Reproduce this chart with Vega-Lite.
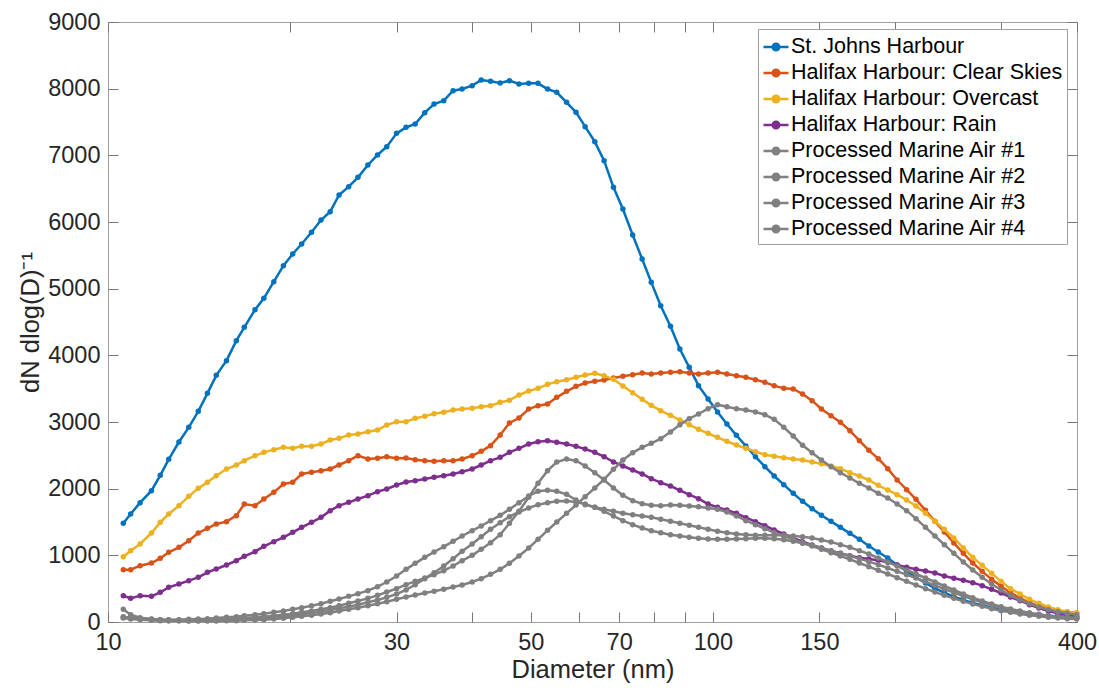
{
"$schema": "https://vega.github.io/schema/vega-lite/v6.json",
"width": 969, "height": 600,
"autosize": "none",
"padding": {"left": 108, "top": 22, "right": 22, "bottom": 68},
"background": "white",
"config": {
  "view": {"stroke": "#a0a0a0", "strokeWidth": 1},
  "font": "Liberation Sans",
  "axis": {"domain": false, "grid": false, "tickColor": "#777777", "tickSize": -10, "tickWidth": 1, "labelFont": "Liberation Sans", "labelFontSize": 23.5, "labelColor": "#262626", "titleFont": "Liberation Sans", "titleFontSize": 25.5, "titleFontWeight": "normal", "titleColor": "#262626", "labelPadding": 18}
},
"datasets": {
"s1": [{"d":10.6,"v":1480},{"d":10.9,"v":1620},{"d":11.3,"v":1790},{"d":11.8,"v":1970},{"d":12.2,"v":2200},{"d":12.6,"v":2440},{"d":13.1,"v":2700},{"d":13.6,"v":2920},{"d":14.1,"v":3160},{"d":14.6,"v":3430},{"d":15.1,"v":3700},{"d":15.7,"v":3920},{"d":16.3,"v":4220},{"d":16.8,"v":4420},{"d":17.5,"v":4685},{"d":18.1,"v":4855},{"d":18.8,"v":5105},{"d":19.5,"v":5345},{"d":20.2,"v":5520},{"d":20.9,"v":5670},{"d":21.7,"v":5845},{"d":22.5,"v":6030},{"d":23.3,"v":6155},{"d":24.1,"v":6405},{"d":25,"v":6530},{"d":25.9,"v":6670},{"d":26.9,"v":6855},{"d":27.9,"v":7005},{"d":28.9,"v":7130},{"d":30,"v":7330},{"d":31.1,"v":7420},{"d":32.2,"v":7470},{"d":33.4,"v":7640},{"d":34.6,"v":7770},{"d":35.9,"v":7820},{"d":37.2,"v":7970},{"d":38.5,"v":7995},{"d":40,"v":8045},{"d":41.4,"v":8130},{"d":42.9,"v":8110},{"d":44.5,"v":8085},{"d":46.1,"v":8120},{"d":47.8,"v":8070},{"d":49.6,"v":8080},{"d":51.4,"v":8080},{"d":53.3,"v":7995},{"d":55.2,"v":7945},{"d":57.3,"v":7795},{"d":59.4,"v":7645},{"d":61.5,"v":7430},{"d":63.8,"v":7205},{"d":66.1,"v":6920},{"d":68.5,"v":6520},{"d":71,"v":6195},{"d":73.7,"v":5805},{"d":76.4,"v":5445},{"d":79.1,"v":5095},{"d":82,"v":4745},{"d":85.1,"v":4435},{"d":88.2,"v":4095},{"d":91.4,"v":3820},{"d":94.7,"v":3545},{"d":98.2,"v":3345},{"d":101.8,"v":3150},{"d":105.5,"v":2970},{"d":109.4,"v":2800},{"d":113.4,"v":2640},{"d":117.6,"v":2480},{"d":121.9,"v":2330},{"d":126.3,"v":2190},{"d":131,"v":2060},{"d":135.8,"v":1930},{"d":140.7,"v":1810},{"d":145.9,"v":1700},{"d":151.2,"v":1600},{"d":156.8,"v":1510},{"d":162.5,"v":1420},{"d":168.5,"v":1330},{"d":174.7,"v":1240},{"d":181.1,"v":1140},{"d":187.7,"v":1050},{"d":194.6,"v":960},{"d":201.7,"v":855},{"d":209.1,"v":760},{"d":216.7,"v":670},{"d":224.7,"v":585},{"d":232.9,"v":505},{"d":241.4,"v":440},{"d":250.3,"v":380},{"d":259.5,"v":330},{"d":269,"v":285},{"d":278.8,"v":250},{"d":289,"v":215},{"d":299.6,"v":185},{"d":310.6,"v":160},{"d":322,"v":140},{"d":333.8,"v":120},{"d":346,"v":105},{"d":358.7,"v":95},{"d":371.8,"v":85},{"d":385.4,"v":75},{"d":399.5,"v":65}],
"s2": [{"d":10.6,"v":785},{"d":10.9,"v":785},{"d":11.3,"v":845},{"d":11.8,"v":885},{"d":12.2,"v":955},{"d":12.6,"v":1045},{"d":13.1,"v":1120},{"d":13.6,"v":1220},{"d":14.1,"v":1335},{"d":14.6,"v":1405},{"d":15.1,"v":1470},{"d":15.7,"v":1505},{"d":16.3,"v":1595},{"d":16.8,"v":1770},{"d":17.5,"v":1745},{"d":18.1,"v":1845},{"d":18.8,"v":1945},{"d":19.5,"v":2070},{"d":20.2,"v":2095},{"d":20.9,"v":2220},{"d":21.7,"v":2245},{"d":22.5,"v":2270},{"d":23.3,"v":2295},{"d":24.1,"v":2355},{"d":25,"v":2420},{"d":25.9,"v":2495},{"d":26.9,"v":2445},{"d":27.9,"v":2455},{"d":28.9,"v":2480},{"d":30,"v":2455},{"d":31.1,"v":2460},{"d":32.2,"v":2435},{"d":33.4,"v":2420},{"d":34.6,"v":2410},{"d":35.9,"v":2420},{"d":37.2,"v":2420},{"d":38.5,"v":2445},{"d":40,"v":2495},{"d":41.4,"v":2560},{"d":42.9,"v":2645},{"d":44.5,"v":2805},{"d":46.1,"v":2985},{"d":47.8,"v":3060},{"d":49.6,"v":3195},{"d":51.4,"v":3245},{"d":53.3,"v":3270},{"d":55.2,"v":3370},{"d":57.3,"v":3460},{"d":59.4,"v":3535},{"d":61.5,"v":3585},{"d":63.8,"v":3610},{"d":66.1,"v":3630},{"d":68.5,"v":3660},{"d":71,"v":3685},{"d":73.7,"v":3710},{"d":76.4,"v":3735},{"d":79.1,"v":3720},{"d":82,"v":3735},{"d":85.1,"v":3745},{"d":88.2,"v":3755},{"d":91.4,"v":3735},{"d":94.7,"v":3720},{"d":98.2,"v":3735},{"d":101.8,"v":3745},{"d":105.5,"v":3720},{"d":109.4,"v":3695},{"d":113.4,"v":3670},{"d":117.6,"v":3635},{"d":121.9,"v":3595},{"d":126.3,"v":3545},{"d":131,"v":3505},{"d":135.8,"v":3495},{"d":140.7,"v":3420},{"d":145.9,"v":3320},{"d":151.2,"v":3195},{"d":156.8,"v":3095},{"d":162.5,"v":2995},{"d":168.5,"v":2870},{"d":174.7,"v":2720},{"d":181.1,"v":2575},{"d":187.7,"v":2450},{"d":194.6,"v":2300},{"d":201.7,"v":2130},{"d":209.1,"v":1985},{"d":216.7,"v":1840},{"d":224.7,"v":1675},{"d":232.9,"v":1510},{"d":241.4,"v":1350},{"d":250.3,"v":1185},{"d":259.5,"v":1030},{"d":269,"v":885},{"d":278.8,"v":760},{"d":289,"v":640},{"d":299.6,"v":535},{"d":310.6,"v":440},{"d":322,"v":360},{"d":333.8,"v":290},{"d":346,"v":240},{"d":358.7,"v":200},{"d":371.8,"v":170},{"d":385.4,"v":150},{"d":399.5,"v":135}],
"s3": [{"d":10.6,"v":980},{"d":10.9,"v":1070},{"d":11.3,"v":1170},{"d":11.8,"v":1335},{"d":12.2,"v":1495},{"d":12.6,"v":1620},{"d":13.1,"v":1745},{"d":13.6,"v":1885},{"d":14.1,"v":2005},{"d":14.6,"v":2095},{"d":15.1,"v":2195},{"d":15.7,"v":2295},{"d":16.3,"v":2355},{"d":16.8,"v":2420},{"d":17.5,"v":2495},{"d":18.1,"v":2545},{"d":18.8,"v":2585},{"d":19.5,"v":2620},{"d":20.2,"v":2605},{"d":20.9,"v":2635},{"d":21.7,"v":2635},{"d":22.5,"v":2670},{"d":23.3,"v":2730},{"d":24.1,"v":2755},{"d":25,"v":2805},{"d":25.9,"v":2820},{"d":26.9,"v":2855},{"d":27.9,"v":2880},{"d":28.9,"v":2955},{"d":30,"v":3005},{"d":31.1,"v":3005},{"d":32.2,"v":3055},{"d":33.4,"v":3085},{"d":34.6,"v":3125},{"d":35.9,"v":3145},{"d":37.2,"v":3180},{"d":38.5,"v":3195},{"d":40,"v":3205},{"d":41.4,"v":3230},{"d":42.9,"v":3245},{"d":44.5,"v":3295},{"d":46.1,"v":3325},{"d":47.8,"v":3405},{"d":49.6,"v":3465},{"d":51.4,"v":3505},{"d":53.3,"v":3565},{"d":55.2,"v":3605},{"d":57.3,"v":3635},{"d":59.4,"v":3670},{"d":61.5,"v":3705},{"d":63.8,"v":3730},{"d":66.1,"v":3695},{"d":68.5,"v":3640},{"d":71,"v":3540},{"d":73.7,"v":3440},{"d":76.4,"v":3340},{"d":79.1,"v":3250},{"d":82,"v":3170},{"d":85.1,"v":3100},{"d":88.2,"v":3030},{"d":91.4,"v":2960},{"d":94.7,"v":2890},{"d":98.2,"v":2830},{"d":101.8,"v":2770},{"d":105.5,"v":2710},{"d":109.4,"v":2655},{"d":113.4,"v":2605},{"d":117.6,"v":2555},{"d":121.9,"v":2510},{"d":126.3,"v":2485},{"d":131,"v":2465},{"d":135.8,"v":2445},{"d":140.7,"v":2430},{"d":145.9,"v":2400},{"d":151.2,"v":2375},{"d":156.8,"v":2340},{"d":162.5,"v":2300},{"d":168.5,"v":2240},{"d":174.7,"v":2190},{"d":181.1,"v":2130},{"d":187.7,"v":2050},{"d":194.6,"v":1980},{"d":201.7,"v":1910},{"d":209.1,"v":1830},{"d":216.7,"v":1740},{"d":224.7,"v":1630},{"d":232.9,"v":1510},{"d":241.4,"v":1390},{"d":250.3,"v":1260},{"d":259.5,"v":1110},{"d":269,"v":970},{"d":278.8,"v":850},{"d":289,"v":730},{"d":299.6,"v":610},{"d":310.6,"v":500},{"d":322,"v":420},{"d":333.8,"v":340},{"d":346,"v":280},{"d":358.7,"v":225},{"d":371.8,"v":185},{"d":385.4,"v":155},{"d":399.5,"v":135}],
"s4": [{"d":10.6,"v":395},{"d":10.9,"v":355},{"d":11.3,"v":395},{"d":11.8,"v":385},{"d":12.2,"v":445},{"d":12.6,"v":520},{"d":13.1,"v":570},{"d":13.6,"v":620},{"d":14.1,"v":670},{"d":14.6,"v":745},{"d":15.1,"v":795},{"d":15.7,"v":855},{"d":16.3,"v":920},{"d":16.8,"v":985},{"d":17.5,"v":1055},{"d":18.1,"v":1135},{"d":18.8,"v":1205},{"d":19.5,"v":1270},{"d":20.2,"v":1345},{"d":20.9,"v":1420},{"d":21.7,"v":1495},{"d":22.5,"v":1570},{"d":23.3,"v":1670},{"d":24.1,"v":1745},{"d":25,"v":1795},{"d":25.9,"v":1845},{"d":26.9,"v":1895},{"d":27.9,"v":1955},{"d":28.9,"v":1995},{"d":30,"v":2055},{"d":31.1,"v":2100},{"d":32.2,"v":2120},{"d":33.4,"v":2145},{"d":34.6,"v":2170},{"d":35.9,"v":2195},{"d":37.2,"v":2220},{"d":38.5,"v":2255},{"d":40,"v":2295},{"d":41.4,"v":2355},{"d":42.9,"v":2420},{"d":44.5,"v":2470},{"d":46.1,"v":2545},{"d":47.8,"v":2605},{"d":49.6,"v":2670},{"d":51.4,"v":2705},{"d":53.3,"v":2720},{"d":55.2,"v":2695},{"d":57.3,"v":2670},{"d":59.4,"v":2635},{"d":61.5,"v":2595},{"d":63.8,"v":2545},{"d":66.1,"v":2480},{"d":68.5,"v":2400},{"d":71,"v":2340},{"d":73.7,"v":2280},{"d":76.4,"v":2220},{"d":79.1,"v":2150},{"d":82,"v":2090},{"d":85.1,"v":2040},{"d":88.2,"v":1975},{"d":91.4,"v":1910},{"d":94.7,"v":1850},{"d":98.2,"v":1770},{"d":101.8,"v":1720},{"d":105.5,"v":1680},{"d":109.4,"v":1630},{"d":113.4,"v":1565},{"d":117.6,"v":1505},{"d":121.9,"v":1445},{"d":126.3,"v":1380},{"d":131,"v":1320},{"d":135.8,"v":1260},{"d":140.7,"v":1205},{"d":145.9,"v":1155},{"d":151.2,"v":1110},{"d":156.8,"v":1065},{"d":162.5,"v":1030},{"d":168.5,"v":995},{"d":174.7,"v":965},{"d":181.1,"v":945},{"d":187.7,"v":925},{"d":194.6,"v":895},{"d":201.7,"v":855},{"d":209.1,"v":820},{"d":216.7,"v":790},{"d":224.7,"v":765},{"d":232.9,"v":735},{"d":241.4,"v":690},{"d":250.3,"v":655},{"d":259.5,"v":625},{"d":269,"v":590},{"d":278.8,"v":545},{"d":289,"v":490},{"d":299.6,"v":435},{"d":310.6,"v":375},{"d":322,"v":320},{"d":333.8,"v":260},{"d":346,"v":210},{"d":358.7,"v":165},{"d":371.8,"v":130},{"d":385.4,"v":105},{"d":399.5,"v":85}],
"s5": [{"d":10.6,"v":190},{"d":10.9,"v":110},{"d":11.3,"v":65},{"d":11.8,"v":45},{"d":12.2,"v":35},{"d":12.6,"v":35},{"d":13.1,"v":35},{"d":13.6,"v":40},{"d":14.1,"v":45},{"d":14.6,"v":50},{"d":15.1,"v":60},{"d":15.7,"v":70},{"d":16.3,"v":80},{"d":16.8,"v":95},{"d":17.5,"v":110},{"d":18.1,"v":125},{"d":18.8,"v":145},{"d":19.5,"v":165},{"d":20.2,"v":190},{"d":20.9,"v":215},{"d":21.7,"v":245},{"d":22.5,"v":275},{"d":23.3,"v":310},{"d":24.1,"v":345},{"d":25,"v":385},{"d":25.9,"v":425},{"d":26.9,"v":470},{"d":27.9,"v":530},{"d":28.9,"v":600},{"d":30,"v":690},{"d":31.1,"v":790},{"d":32.2,"v":880},{"d":33.4,"v":970},{"d":34.6,"v":1050},{"d":35.9,"v":1130},{"d":37.2,"v":1210},{"d":38.5,"v":1290},{"d":40,"v":1370},{"d":41.4,"v":1440},{"d":42.9,"v":1520},{"d":44.5,"v":1600},{"d":46.1,"v":1690},{"d":47.8,"v":1790},{"d":49.6,"v":1890},{"d":51.4,"v":1960},{"d":53.3,"v":1975},{"d":55.2,"v":1960},{"d":57.3,"v":1915},{"d":59.4,"v":1830},{"d":61.5,"v":1760},{"d":63.8,"v":1720},{"d":66.1,"v":1690},{"d":68.5,"v":1660},{"d":71,"v":1630},{"d":73.7,"v":1610},{"d":76.4,"v":1590},{"d":79.1,"v":1570},{"d":82,"v":1540},{"d":85.1,"v":1510},{"d":88.2,"v":1480},{"d":91.4,"v":1450},{"d":94.7,"v":1420},{"d":98.2,"v":1390},{"d":101.8,"v":1360},{"d":105.5,"v":1340},{"d":109.4,"v":1320},{"d":113.4,"v":1310},{"d":117.6,"v":1300},{"d":121.9,"v":1300},{"d":126.3,"v":1300},{"d":131,"v":1300},{"d":135.8,"v":1290},{"d":140.7,"v":1280},{"d":145.9,"v":1260},{"d":151.2,"v":1230},{"d":156.8,"v":1200},{"d":162.5,"v":1160},{"d":168.5,"v":1120},{"d":174.7,"v":1070},{"d":181.1,"v":1020},{"d":187.7,"v":960},{"d":194.6,"v":900},{"d":201.7,"v":840},{"d":209.1,"v":780},{"d":216.7,"v":720},{"d":224.7,"v":660},{"d":232.9,"v":600},{"d":241.4,"v":540},{"d":250.3,"v":480},{"d":259.5,"v":420},{"d":269,"v":365},{"d":278.8,"v":315},{"d":289,"v":270},{"d":299.6,"v":230},{"d":310.6,"v":195},{"d":322,"v":165},{"d":333.8,"v":140},{"d":346,"v":115},{"d":358.7,"v":95},{"d":371.8,"v":80},{"d":385.4,"v":70},{"d":399.5,"v":60}],
"s6": [{"d":10.6,"v":80},{"d":10.9,"v":65},{"d":11.3,"v":50},{"d":11.8,"v":40},{"d":12.2,"v":35},{"d":12.6,"v":30},{"d":13.1,"v":30},{"d":13.6,"v":30},{"d":14.1,"v":30},{"d":14.6,"v":35},{"d":15.1,"v":40},{"d":15.7,"v":45},{"d":16.3,"v":55},{"d":16.8,"v":60},{"d":17.5,"v":70},{"d":18.1,"v":80},{"d":18.8,"v":95},{"d":19.5,"v":110},{"d":20.2,"v":125},{"d":20.9,"v":145},{"d":21.7,"v":165},{"d":22.5,"v":190},{"d":23.3,"v":215},{"d":24.1,"v":245},{"d":25,"v":280},{"d":25.9,"v":315},{"d":26.9,"v":355},{"d":27.9,"v":400},{"d":28.9,"v":450},{"d":30,"v":500},{"d":31.1,"v":560},{"d":32.2,"v":610},{"d":33.4,"v":660},{"d":34.6,"v":710},{"d":35.9,"v":770},{"d":37.2,"v":840},{"d":38.5,"v":920},{"d":40,"v":1000},{"d":41.4,"v":1090},{"d":42.9,"v":1190},{"d":44.5,"v":1310},{"d":46.1,"v":1480},{"d":47.8,"v":1660},{"d":49.6,"v":1870},{"d":51.4,"v":2080},{"d":53.3,"v":2270},{"d":55.2,"v":2400},{"d":57.3,"v":2445},{"d":59.4,"v":2420},{"d":61.5,"v":2340},{"d":63.8,"v":2240},{"d":66.1,"v":2130},{"d":68.5,"v":2010},{"d":71,"v":1900},{"d":73.7,"v":1820},{"d":76.4,"v":1775},{"d":79.1,"v":1750},{"d":82,"v":1745},{"d":85.1,"v":1755},{"d":88.2,"v":1750},{"d":91.4,"v":1740},{"d":94.7,"v":1730},{"d":98.2,"v":1710},{"d":101.8,"v":1690},{"d":105.5,"v":1650},{"d":109.4,"v":1590},{"d":113.4,"v":1520},{"d":117.6,"v":1460},{"d":121.9,"v":1400},{"d":126.3,"v":1340},{"d":131,"v":1290},{"d":135.8,"v":1240},{"d":140.7,"v":1190},{"d":145.9,"v":1150},{"d":151.2,"v":1110},{"d":156.8,"v":1070},{"d":162.5,"v":1030},{"d":168.5,"v":990},{"d":174.7,"v":950},{"d":181.1,"v":905},{"d":187.7,"v":860},{"d":194.6,"v":810},{"d":201.7,"v":760},{"d":209.1,"v":710},{"d":216.7,"v":660},{"d":224.7,"v":605},{"d":232.9,"v":550},{"d":241.4,"v":495},{"d":250.3,"v":440},{"d":259.5,"v":390},{"d":269,"v":340},{"d":278.8,"v":295},{"d":289,"v":255},{"d":299.6,"v":215},{"d":310.6,"v":180},{"d":322,"v":150},{"d":333.8,"v":125},{"d":346,"v":105},{"d":358.7,"v":90},{"d":371.8,"v":75},{"d":385.4,"v":65},{"d":399.5,"v":55}],
"s7": [{"d":10.6,"v":60},{"d":10.9,"v":45},{"d":11.3,"v":35},{"d":11.8,"v":25},{"d":12.2,"v":20},{"d":12.6,"v":20},{"d":13.1,"v":20},{"d":13.6,"v":20},{"d":14.1,"v":20},{"d":14.6,"v":25},{"d":15.1,"v":25},{"d":15.7,"v":30},{"d":16.3,"v":35},{"d":16.8,"v":40},{"d":17.5,"v":50},{"d":18.1,"v":60},{"d":18.8,"v":70},{"d":19.5,"v":85},{"d":20.2,"v":100},{"d":20.9,"v":115},{"d":21.7,"v":135},{"d":22.5,"v":155},{"d":23.3,"v":180},{"d":24.1,"v":205},{"d":25,"v":230},{"d":25.9,"v":260},{"d":26.9,"v":295},{"d":27.9,"v":330},{"d":28.9,"v":370},{"d":30,"v":420},{"d":31.1,"v":480},{"d":32.2,"v":560},{"d":33.4,"v":650},{"d":34.6,"v":740},{"d":35.9,"v":840},{"d":37.2,"v":950},{"d":38.5,"v":1060},{"d":40,"v":1170},{"d":41.4,"v":1280},{"d":42.9,"v":1390},{"d":44.5,"v":1490},{"d":46.1,"v":1580},{"d":47.8,"v":1650},{"d":49.6,"v":1710},{"d":51.4,"v":1760},{"d":53.3,"v":1790},{"d":55.2,"v":1810},{"d":57.3,"v":1815},{"d":59.4,"v":1800},{"d":61.5,"v":1770},{"d":63.8,"v":1720},{"d":66.1,"v":1660},{"d":68.5,"v":1590},{"d":71,"v":1520},{"d":73.7,"v":1460},{"d":76.4,"v":1410},{"d":79.1,"v":1370},{"d":82,"v":1340},{"d":85.1,"v":1310},{"d":88.2,"v":1290},{"d":91.4,"v":1270},{"d":94.7,"v":1255},{"d":98.2,"v":1245},{"d":101.8,"v":1240},{"d":105.5,"v":1240},{"d":109.4,"v":1245},{"d":113.4,"v":1250},{"d":117.6,"v":1255},{"d":121.9,"v":1255},{"d":126.3,"v":1250},{"d":131,"v":1235},{"d":135.8,"v":1210},{"d":140.7,"v":1180},{"d":145.9,"v":1140},{"d":151.2,"v":1090},{"d":156.8,"v":1040},{"d":162.5,"v":990},{"d":168.5,"v":940},{"d":174.7,"v":885},{"d":181.1,"v":830},{"d":187.7,"v":775},{"d":194.6,"v":720},{"d":201.7,"v":665},{"d":209.1,"v":610},{"d":216.7,"v":555},{"d":224.7,"v":500},{"d":232.9,"v":450},{"d":241.4,"v":400},{"d":250.3,"v":355},{"d":259.5,"v":310},{"d":269,"v":270},{"d":278.8,"v":235},{"d":289,"v":200},{"d":299.6,"v":170},{"d":310.6,"v":145},{"d":322,"v":120},{"d":333.8,"v":100},{"d":346,"v":85},{"d":358.7,"v":70},{"d":371.8,"v":60},{"d":385.4,"v":50},{"d":399.5,"v":45}],
"s8": [{"d":10.6,"v":70},{"d":10.9,"v":55},{"d":11.3,"v":40},{"d":11.8,"v":30},{"d":12.2,"v":25},{"d":12.6,"v":20},{"d":13.1,"v":20},{"d":13.6,"v":15},{"d":14.1,"v":15},{"d":14.6,"v":15},{"d":15.1,"v":15},{"d":15.7,"v":20},{"d":16.3,"v":20},{"d":16.8,"v":25},{"d":17.5,"v":30},{"d":18.1,"v":35},{"d":18.8,"v":45},{"d":19.5,"v":55},{"d":20.2,"v":70},{"d":20.9,"v":85},{"d":21.7,"v":100},{"d":22.5,"v":120},{"d":23.3,"v":140},{"d":24.1,"v":165},{"d":25,"v":190},{"d":25.9,"v":215},{"d":26.9,"v":245},{"d":27.9,"v":275},{"d":28.9,"v":305},{"d":30,"v":340},{"d":31.1,"v":375},{"d":32.2,"v":405},{"d":33.4,"v":435},{"d":34.6,"v":460},{"d":35.9,"v":490},{"d":37.2,"v":525},{"d":38.5,"v":555},{"d":40,"v":600},{"d":41.4,"v":650},{"d":42.9,"v":715},{"d":44.5,"v":790},{"d":46.1,"v":880},{"d":47.8,"v":990},{"d":49.6,"v":1110},{"d":51.4,"v":1240},{"d":53.3,"v":1375},{"d":55.2,"v":1500},{"d":57.3,"v":1630},{"d":59.4,"v":1755},{"d":61.5,"v":1880},{"d":63.8,"v":2010},{"d":66.1,"v":2140},{"d":68.5,"v":2290},{"d":71,"v":2430},{"d":73.7,"v":2540},{"d":76.4,"v":2620},{"d":79.1,"v":2680},{"d":82,"v":2750},{"d":85.1,"v":2850},{"d":88.2,"v":2960},{"d":91.4,"v":3050},{"d":94.7,"v":3120},{"d":98.2,"v":3200},{"d":101.8,"v":3260},{"d":105.5,"v":3230},{"d":109.4,"v":3200},{"d":113.4,"v":3180},{"d":117.6,"v":3150},{"d":121.9,"v":3110},{"d":126.3,"v":3040},{"d":131,"v":2920},{"d":135.8,"v":2790},{"d":140.7,"v":2650},{"d":145.9,"v":2540},{"d":151.2,"v":2430},{"d":156.8,"v":2330},{"d":162.5,"v":2240},{"d":168.5,"v":2160},{"d":174.7,"v":2080},{"d":181.1,"v":2010},{"d":187.7,"v":1930},{"d":194.6,"v":1860},{"d":201.7,"v":1770},{"d":209.1,"v":1670},{"d":216.7,"v":1550},{"d":224.7,"v":1420},{"d":232.9,"v":1290},{"d":241.4,"v":1160},{"d":250.3,"v":1030},{"d":259.5,"v":900},{"d":269,"v":780},{"d":278.8,"v":670},{"d":289,"v":570},{"d":299.6,"v":480},{"d":310.6,"v":400},{"d":322,"v":330},{"d":333.8,"v":275},{"d":346,"v":225},{"d":358.7,"v":185},{"d":371.8,"v":155},{"d":385.4,"v":130},{"d":399.5,"v":110}]
},
"layer": [
 {"data": {"name": "s1"}, "mark": {"type": "line", "strokeWidth": 2.5, "point": {"filled": true, "size": 30}},
  "encoding": {
   "x": {"field": "d", "type": "quantitative", "scale": {"type": "log", "domain": [10, 400], "nice": false},
         "axis": {"orient": "bottom", "values": [10,20,30,40,50,60,70,80,90,100,150,200,300,400], "labelExpr": "indexof([10,30,50,70,100,150,400], datum.value) >= 0 ? format(datum.value, 'd') : ''", "labelOverlap": false, "labelFlush": false, "title": "Diameter (nm)", "titlePadding": 4}},
   "y": {"field": "v", "type": "quantitative", "scale": {"domain": [0, 9000], "nice": false},
         "axis": {"orient": "left", "values": [0,1000,2000,3000,4000,5000,6000,7000,8000,9000], "format": "d", "labelOverlap": false, "title": "dN dlog(D)⁻¹", "titlePadding": 4}},
   "color": {"datum": "St. Johns Harbour", "type": "nominal",
     "scale": {"domain": ["St. Johns Harbour", "Halifax Harbour: Clear Skies", "Halifax Harbour: Overcast", "Halifax Harbour: Rain", "Processed Marine Air #1", "Processed Marine Air #2", "Processed Marine Air #3", "Processed Marine Air #4"],
               "range": ["#0072BD", "#D95319", "#EDB120", "#7E2F8E", "#808080", "#808080", "#808080", "#808080"]},
     "legend": {"orient": "none", "legendX": 650, "legendY": 7, "title": null, "padding": 4, "strokeColor": "#a0a0a0", "fillColor": "white",
       "symbolType": "M-1,0L1,0M-0.26,0A0.26,0.26,0,1,1,0.26,0A0.26,0.26,0,1,1,-0.26,0", "symbolSize": 625, "symbolStrokeWidth": 2.5,
       "labelFontSize": 21.5, "labelFont": "Liberation Sans", "labelColor": "#000000", "labelOffset": 1, "rowPadding": 1, "labelLimit": 400,
       "encode": {"symbols": {"update": {"fill": {"scale": "color", "field": "value"}}}}}}
  }},
 {"data": {"name": "s2"}, "mark": {"type": "line", "strokeWidth": 2.5, "point": {"filled": true, "size": 30}},
  "encoding": {"x": {"field": "d", "type": "quantitative", "scale": {"type": "log"}, "axis": null}, "y": {"field": "v", "type": "quantitative", "axis": null}, "color": {"datum": "Halifax Harbour: Clear Skies", "type": "nominal"}}},
 {"data": {"name": "s3"}, "mark": {"type": "line", "strokeWidth": 2.5, "point": {"filled": true, "size": 30}},
  "encoding": {"x": {"field": "d", "type": "quantitative", "scale": {"type": "log"}, "axis": null}, "y": {"field": "v", "type": "quantitative", "axis": null}, "color": {"datum": "Halifax Harbour: Overcast", "type": "nominal"}}},
 {"data": {"name": "s4"}, "mark": {"type": "line", "strokeWidth": 2.5, "point": {"filled": true, "size": 30}},
  "encoding": {"x": {"field": "d", "type": "quantitative", "scale": {"type": "log"}, "axis": null}, "y": {"field": "v", "type": "quantitative", "axis": null}, "color": {"datum": "Halifax Harbour: Rain", "type": "nominal"}}},
 {"data": {"name": "s5"}, "mark": {"type": "line", "strokeWidth": 2.5, "point": {"filled": true, "size": 30}},
  "encoding": {"x": {"field": "d", "type": "quantitative", "scale": {"type": "log"}, "axis": null}, "y": {"field": "v", "type": "quantitative", "axis": null}, "color": {"datum": "Processed Marine Air #1", "type": "nominal"}}},
 {"data": {"name": "s6"}, "mark": {"type": "line", "strokeWidth": 2.5, "point": {"filled": true, "size": 30}},
  "encoding": {"x": {"field": "d", "type": "quantitative", "scale": {"type": "log"}, "axis": null}, "y": {"field": "v", "type": "quantitative", "axis": null}, "color": {"datum": "Processed Marine Air #2", "type": "nominal"}}},
 {"data": {"name": "s7"}, "mark": {"type": "line", "strokeWidth": 2.5, "point": {"filled": true, "size": 30}},
  "encoding": {"x": {"field": "d", "type": "quantitative", "scale": {"type": "log"}, "axis": null}, "y": {"field": "v", "type": "quantitative", "axis": null}, "color": {"datum": "Processed Marine Air #3", "type": "nominal"}}},
 {"data": {"name": "s8"}, "mark": {"type": "line", "strokeWidth": 2.5, "point": {"filled": true, "size": 30}},
  "encoding": {"x": {"field": "d", "type": "quantitative", "scale": {"type": "log"}, "axis": null}, "y": {"field": "v", "type": "quantitative", "axis": null}, "color": {"datum": "Processed Marine Air #4", "type": "nominal"}}},
 {"data": {"name": "s1"}, "mark": {"type": "point", "opacity": 0},
  "encoding": {
   "x": {"field": "d", "type": "quantitative", "scale": {"type": "log"}, "axis": {"orient": "top", "values": [10,20,30,40,50,60,70,80,90,100,150,200,300,400], "labels": false, "title": null}},
   "y": {"field": "v", "type": "quantitative", "axis": {"orient": "right", "values": [0,1000,2000,3000,4000,5000,6000,7000,8000,9000], "labels": false, "title": null}}}}
],
"resolve": {"axis": {"x": "independent", "y": "independent"}}
}
